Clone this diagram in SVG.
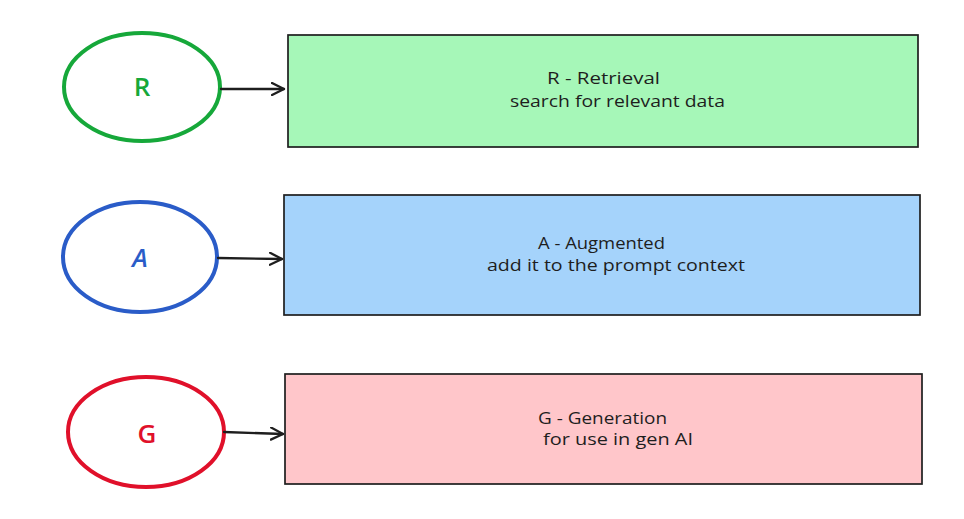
<svg xmlns="http://www.w3.org/2000/svg" width="964" height="519" viewBox="0 0 964 519">
<defs>
<style>
.bg{fill:#ffffff}
.box{stroke:#1e1e1e;stroke-width:1.7}
.ell{fill:none;stroke-width:4}
.lbl{font-family:"Open Sans","Liberation Sans",sans-serif;font-size:17px;fill:#1e1e1e}
.big{font-family:"Open Sans","Liberation Sans",sans-serif;font-size:26px;font-weight:600;text-anchor:middle}
.conn{stroke:#1e1e1e;stroke-width:2.3;fill:none;stroke-linecap:round;stroke-linejoin:round}
</style>
<marker id="ah" markerWidth="16" markerHeight="14" refX="13" refY="7" orient="auto" markerUnits="userSpaceOnUse">
<path d="M1,1 L13,7 L1,13" fill="none" stroke="#1e1e1e" stroke-width="2.3" stroke-linecap="round" stroke-linejoin="round"/>
</marker>
</defs>
<rect class="bg" x="0" y="0" width="964" height="519"/>

<g id="node-R">
<ellipse class="ell" cx="142" cy="87" rx="78" ry="54" stroke="#16a83a"/>
<text class="big" x="142" y="96" fill="#16a83a">R</text>
</g>
<g id="node-A">
<ellipse class="ell" cx="140" cy="257" rx="77" ry="55" stroke="#2a5cc8"/>
<text class="big" x="140" y="267" fill="#2a5cc8" font-style="italic">A</text>
</g>
<g id="node-G">
<ellipse class="ell" cx="146" cy="432" rx="78" ry="55" stroke="#e0102a"/>
<text class="big" x="147" y="443" fill="#e0102a">G</text>
</g>

<g id="box-R">
<rect class="box" x="288" y="35" width="630" height="112" fill="#a6f7b8"/>
<text class="lbl" x="547" y="84" textLength="113" lengthAdjust="spacingAndGlyphs">R - Retrieval</text>
<text class="lbl" x="510" y="107" textLength="215" lengthAdjust="spacingAndGlyphs">search for relevant data</text>
</g>
<g id="box-A">
<rect class="box" x="284" y="195" width="636" height="120" fill="#a5d3fb"/>
<text class="lbl" x="538" y="249" textLength="127" lengthAdjust="spacingAndGlyphs">A - Augmented</text>
<text class="lbl" x="487" y="271" textLength="258" lengthAdjust="spacingAndGlyphs">add it to the prompt context</text>
</g>
<g id="box-G">
<rect class="box" x="285" y="374" width="637" height="110" fill="#ffc6ca"/>
<text class="lbl" x="538" y="424" textLength="129" lengthAdjust="spacingAndGlyphs">G - Generation</text>
<text class="lbl" x="543" y="445" textLength="150" lengthAdjust="spacingAndGlyphs">for use in gen AI</text>
</g>

<g id="connectors">
<path class="conn" d="M221,89 L284,89" marker-end="url(#ah)"/>
<path class="conn" d="M218,258 L282,259" marker-end="url(#ah)"/>
<path class="conn" d="M224,432 L283,434" marker-end="url(#ah)"/>
</g>
</svg>
